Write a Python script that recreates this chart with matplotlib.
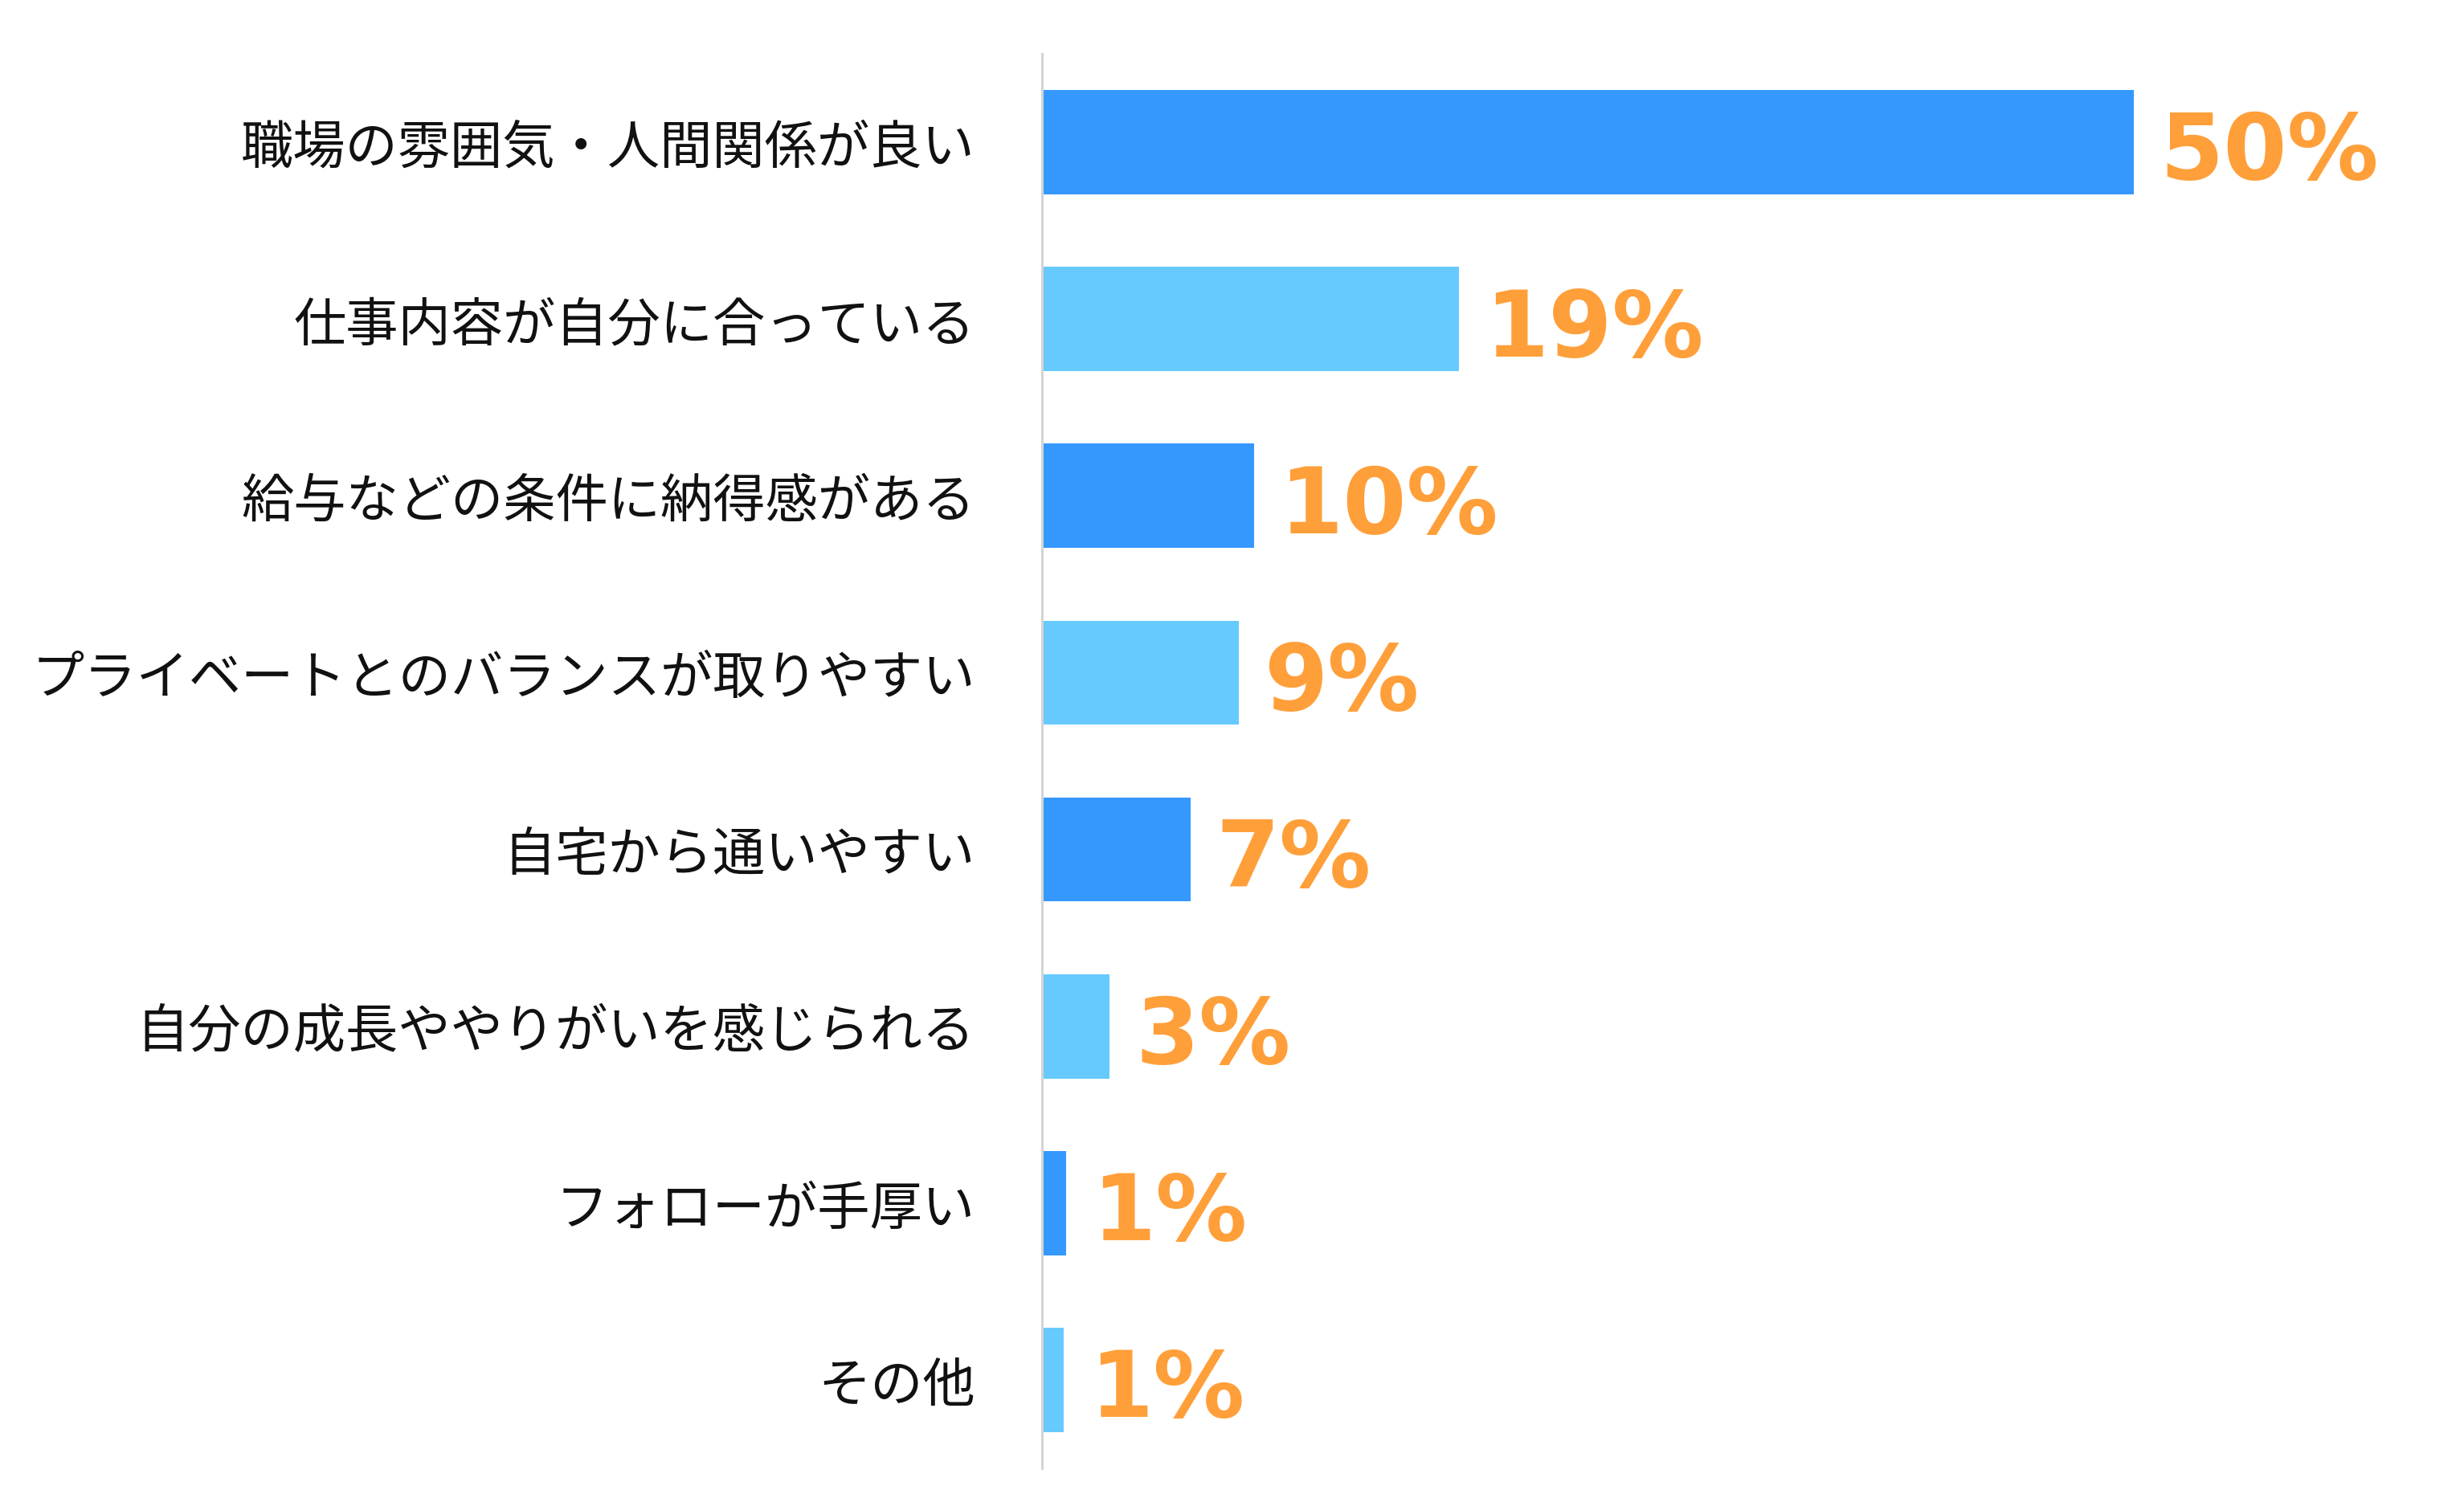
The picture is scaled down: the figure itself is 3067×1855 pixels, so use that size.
import matplotlib
matplotlib.use("Agg")
import matplotlib.pyplot as plt

categories = [
    "職場の雰囲気・人間関係が良い",
    "仕事内容が自分に合っている",
    "給与などの条件に納得感がある",
    "プライベートとのバランスが取りやすい",
    "自宅から通いやすい",
    "自分の成長ややりがいを感じられる",
    "フォローが手厚い",
    "その他",
]
values = [50.0, 19.1, 9.7, 9.0, 6.8, 3.1, 1.1, 1.0]
value_labels = ["50%", "19%", "10%", "9%", "7%", "3%", "1%", "1%"]
bar_colors = ["#3598FE", "#66CAFE", "#3598FE", "#66CAFE",
              "#3598FE", "#66CAFE", "#3598FE", "#66CAFE"]

W, H, DPI = 3067, 1856, 100
fig = plt.figure(figsize=(W / DPI, H / DPI), dpi=DPI)
left_px, right_px = 1297, 3040
top_px, bot_px = 68, 1829
ax = fig.add_axes([left_px / W, 1 - bot_px / H, (right_px - left_px) / W, (bot_px - top_px) / H])

y = list(range(len(categories)))
ax.barh(y, values, height=0.59, color=bar_colors, zorder=2)
ax.set_ylim(len(categories) - 0.5, -0.5)
px_per_unit = (2657 - 1298) / 50.0
ax.set_xlim(0, (right_px - left_px) / px_per_unit)

ax.set_yticks(y)
ax.set_yticklabels(categories, fontsize=47, family=["Noto Sans CJK JP", "DejaVu Sans"], color="#111111")
ax.tick_params(axis="y", length=0, pad=60)
ax.set_xticks([])

for s in ["top", "right", "bottom"]:
    ax.spines[s].set_visible(False)
ax.spines["left"].set_color("#d4d4d4")
ax.spines["left"].set_linewidth(2.2)
ax.spines["left"].set_zorder(3)

for yi, v, lab in zip(y, values, value_labels):
    ax.annotate(lab, (v, yi), xytext=(23, -10), textcoords="offset points",
                ha="left", va="center", fontsize=82, fontweight="bold",
                color="#FF9F3A", family="DejaVu Sans")

fig.savefig("out.png", dpi=DPI, facecolor="white")
